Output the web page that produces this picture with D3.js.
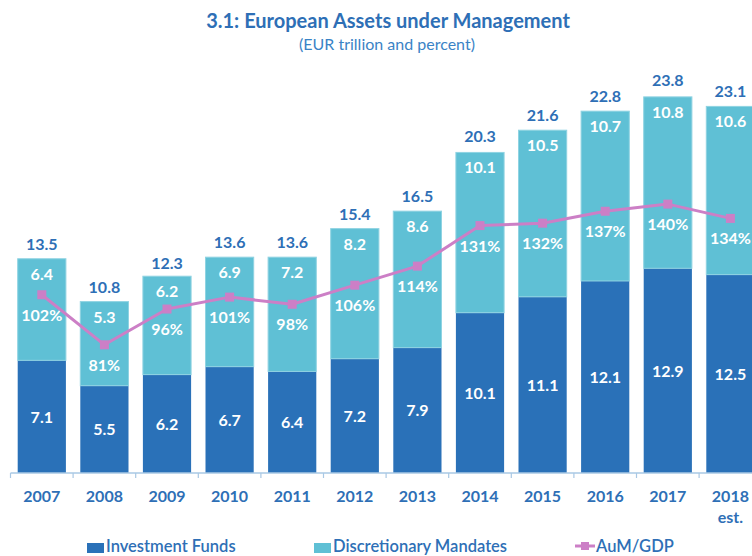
<!DOCTYPE html>
<html><head><meta charset="utf-8">
<script src="https://cdn.jsdelivr.net/npm/d3@7"></script>
<style>
html,body{margin:0;padding:0;background:#fff;overflow:hidden}
svg{display:block;font-family:Lato,"Open Sans",sans-serif}
</style></head>
<body>
<svg id="chart" width="752" height="556"></svg>
<script>
const years = ["2007","2008","2009","2010","2011","2012","2013","2014","2015","2016","2017","2018 est."];
const investmentFunds = [7.1,5.5,6.2,6.7,6.4,7.2,7.9,10.1,11.1,12.1,12.9,12.5];
const discretionaryMandates = [6.4,5.3,6.2,6.9,7.2,8.2,8.6,10.1,10.5,10.7,10.8,10.6];
const totals = [13.5,10.8,12.3,13.6,13.6,15.4,16.5,20.3,21.6,22.8,23.8,23.1];
const aumGdp = [102,81,96,101,98,106,114,131,132,137,140,134];
const seriesNames = ["Investment Funds","Discretionary Mandates","AuM/GDP"];

const C_DARK = "#2a71b8", C_LIGHT = "#5fc0d5", C_LINE = "#cc7fc6", C_TEXT = "#2e6fb6", C_AXIS = "#a9c8e4";

const svg = d3.select("#chart");
const x = d3.scaleBand().domain(years).range([10.5, 761.7]).paddingInner(0.23).paddingOuter(0.115);
const y = d3.scaleLinear().domain([0, 30]).range([473, -3.1]);
const y2 = d3.scaleLinear().domain([0, 200]).range([538, 61]);

// title
svg.append("text").attr("x", 388).attr("y", 28).attr("text-anchor","middle")
  .attr("font-size", 20).attr("font-weight", 700).attr("fill", C_TEXT)
  .text("3.1: European Assets under Management");
svg.append("text").attr("x", 387).attr("y", 50).attr("text-anchor","middle")
  .attr("font-size", 16).attr("fill", "#3a83c6")
  .text("(EUR trillion and percent)");

const rows = years.map((yr,i)=>({yr, f: investmentFunds[i], m: discretionaryMandates[i], t: totals[i], p: aumGdp[i]}));

// bars
const g = svg.append("g");
g.selectAll(".bf").data(rows).join("rect")
  .attr("x", d=>x(d.yr)).attr("width", x.bandwidth())
  .attr("y", d=>y(d.f)).attr("height", d=>y(0)-y(d.f))
  .attr("fill", C_DARK);
g.selectAll(".bm").data(rows).join("rect")
  .attr("x", d=>x(d.yr)).attr("width", x.bandwidth())
  .attr("y", d=>y(d.f+d.m)).attr("height", d=>y(d.f)-y(d.f+d.m))
  .attr("fill", C_LIGHT).attr("stroke", "#8fd3e2").attr("stroke-width", 1);

// axis
const axis = d3.axisBottom(x).tickSize(0).tickFormat("");
const ag = svg.append("g").attr("transform", "translate(0,473)").call(axis);
ag.select(".domain").attr("stroke", C_AXIS).attr("stroke-width", 1.5).attr("d", "M10.5,0H752");
const bounds = years.map((yr)=>x(yr) - x.step()*x.paddingInner()/2);
ag.selectAll(".bt").data(bounds).join("line")
  .attr("x1", d=>d).attr("x2", d=>d).attr("y1", 0).attr("y2", 5)
  .attr("stroke", C_AXIS).attr("stroke-width", 1.2);

// year labels
const yl = svg.append("g").selectAll("text").data(years).join("text")
  .attr("x", d=>x(d)+x.bandwidth()/2).attr("y", 502)
  .attr("text-anchor","middle").attr("font-size", 16).attr("font-weight", 700).attr("fill", C_TEXT);
yl.each(function(d){
  const parts = d.split(" ");
  const t = d3.select(this);
  parts.forEach((p,k)=>t.append("tspan").attr("x", x(d)+x.bandwidth()/2).attr("dy", k? 21:0).text(p));
});

// value labels
const lab = svg.append("g").attr("font-weight",700).attr("text-anchor","middle");
lab.selectAll(".lf").data(rows).join("text")
  .attr("x", d=>x(d.yr)+x.bandwidth()/2).attr("y", d=>(y(0)+y(d.f))/2 + 6)
  .attr("font-size", 16).attr("fill", "#fff").text(d=>d.f.toFixed(1));
lab.selectAll(".lm").data(rows).join("text")
  .attr("x", d=>x(d.yr)+x.bandwidth()/2).attr("y", d=>y(d.f+d.m) + 21)
  .attr("font-size", 16).attr("fill", "#fff").text(d=>d.m.toFixed(1));
lab.selectAll(".lt").data(rows).join("text")
  .attr("x", d=>x(d.yr)+x.bandwidth()/2).attr("y", d=>y(d.t) - 9)
  .attr("font-size", 16).attr("fill", C_TEXT).text(d=>d.t.toFixed(1));

// line
const line = d3.line().x(d=>x(d.yr)+x.bandwidth()/2).y(d=>y2(d.p));
svg.append("path").datum(rows).attr("d", line).attr("fill","none")
  .attr("stroke", C_LINE).attr("stroke-width", 3).attr("stroke-linejoin","round");
svg.append("g").selectAll("rect").data(rows).join("rect")
  .attr("x", d=>x(d.yr)+x.bandwidth()/2-4.5).attr("y", d=>y2(d.p)-4.5)
  .attr("width", 9).attr("height", 9).attr("fill", C_LINE);
lab.selectAll(".lp").data(rows).join("text")
  .attr("x", d=>x(d.yr)+x.bandwidth()/2).attr("y", d=>y2(d.p) + 26)
  .attr("font-size", 16).attr("fill", "#fff").text(d=>d.p + "%");

// legend
const lg = svg.append("g").attr("font-size", 16.5).attr("font-weight", 600).attr("fill", C_TEXT);
const legendX = [87, 314, 575];
lg.append("rect").attr("x", legendX[0]).attr("y", 543).attr("width", 17).attr("height", 10).attr("fill", C_DARK);
lg.append("text").attr("x", legendX[0]+19).attr("y", 552).text(seriesNames[0]);
lg.append("rect").attr("x", legendX[1]).attr("y", 543).attr("width", 17).attr("height", 10).attr("fill", C_LIGHT);
lg.append("text").attr("x", legendX[1]+19).attr("y", 552).text(seriesNames[1]);
lg.append("line").attr("x1", legendX[2]).attr("x2", legendX[2]+20).attr("y1", 546).attr("y2", 546).attr("stroke", C_LINE).attr("stroke-width", 3);
lg.append("rect").attr("x", legendX[2]+6).attr("y", 542).attr("width", 8).attr("height", 8).attr("fill", C_LINE);
lg.append("text").attr("x", legendX[2]+21).attr("y", 552).text(seriesNames[2]);
</script>
</body></html>
